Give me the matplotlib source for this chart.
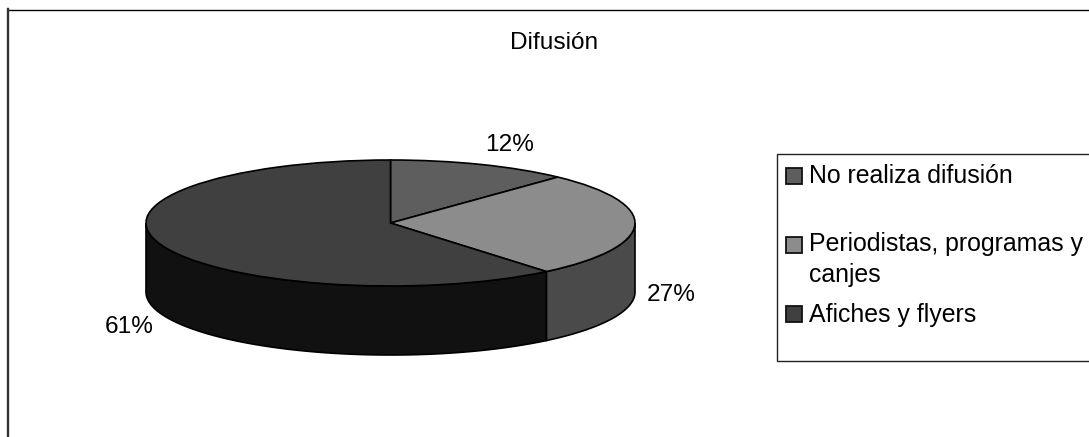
#!/usr/bin/env python3
# -*- coding: utf-8 -*-
import numpy as np
import matplotlib
matplotlib.use('Agg')
import matplotlib.pyplot as plt
from matplotlib.patches import Polygon, Rectangle

plt.rcParams['font.family'] = ['Liberation Sans', 'DejaVu Sans']

title = 'Difusión'
categories = ['No realiza difusión', 'Periodistas, programas y\ncanjes', 'Afiches y flyers']
values = [12, 27, 61]
pct_labels = ['12%', '27%', '61%']
top_colors = ['#5e5e5e', '#8c8c8c', '#404040']
side_colors = ['#303030', '#4a4a4a', '#111111']

W, H = 1089, 437
depth = 69 / 63.0 # wall height, in units of the vertical radius
fs = 17.6
fs_legend = 17.95

fig = plt.figure(figsize=(W/100, H/100), dpi=100, facecolor='white')

# page layer in pixel coordinates, for outer frame and legend
page = fig.add_axes([0, 0, 1, 1], zorder=0)
page.set_xlim(0, W)
page.set_ylim(H, 0)
page.axis('off')
page.plot([8, W], [9.5, 9.5], color='#000000', lw=1.0)
page.plot([8, 8], [H, 9], color='#333333', lw=1.7)

page.text(554, 49, title, fontsize=fs, ha='center', va='baseline', color='black')

# legend
page.add_patch(Rectangle((776.5, 153.5), W, 207, fc='white', ec='#222222', lw=1.0))
swatch_top = [167, 236, 305]
first_base = [183, 251, 322]
for name, col, sy, by in zip(categories, top_colors, swatch_top, first_base):
    page.add_patch(Rectangle((785.5, sy+0.5), 16, 16, fc=col, ec='#111111', lw=1.3))
    for k, part in enumerate(name.split('\n')):
        page.text(809, by+31*k, part, fontsize=fs_legend, va='baseline', color='black')

# pie layer: x -1..1 spans 146..635 px and y -1..1 spans 286..160 px
left, right, top, bot = 146.0, 635.0, 160.0, 286.0
ax = fig.add_axes([left/W, 1-bot/H, (right-left)/W, (bot-top)/H], zorder=1)
wedges, _ = ax.pie(values, startangle=90, counterclock=False, colors=top_colors, radius=1.0,
                   wedgeprops=dict(edgecolor='black', linewidth=1.2, zorder=3))
ax.set_aspect('auto')
ax.set_xlim(-1, 1)
ax.set_ylim(-1, 1)
ax.axis('off')

# walls below the front rim, from the same shares
edges = np.concatenate([[0], np.cumsum(values)]) / float(sum(values)) * 2*np.pi
for i in range(len(values)):
    a0 = max(edges[i], np.pi/2)
    a1 = min(edges[i+1], 3*np.pi/2)
    if a1 <= a0:
        continue
    t = np.linspace(a0, a1, 120)
    x, y = np.sin(t), np.cos(t)
    pts = np.vstack([np.c_[x, y], np.c_[x[::-1], y[::-1]-depth]])
    ax.add_patch(Polygon(pts, closed=True, fc=side_colors[i], ec='black', lw=1.2, zorder=2, clip_on=False))

# percent labels
for txt, px, py in zip(pct_labels, [510, 671, 129], [151, 301, 333]):
    page.text(px, py, txt, fontsize=fs, ha='center', va='baseline', color='black')

fig.savefig('out.png', dpi=100)
